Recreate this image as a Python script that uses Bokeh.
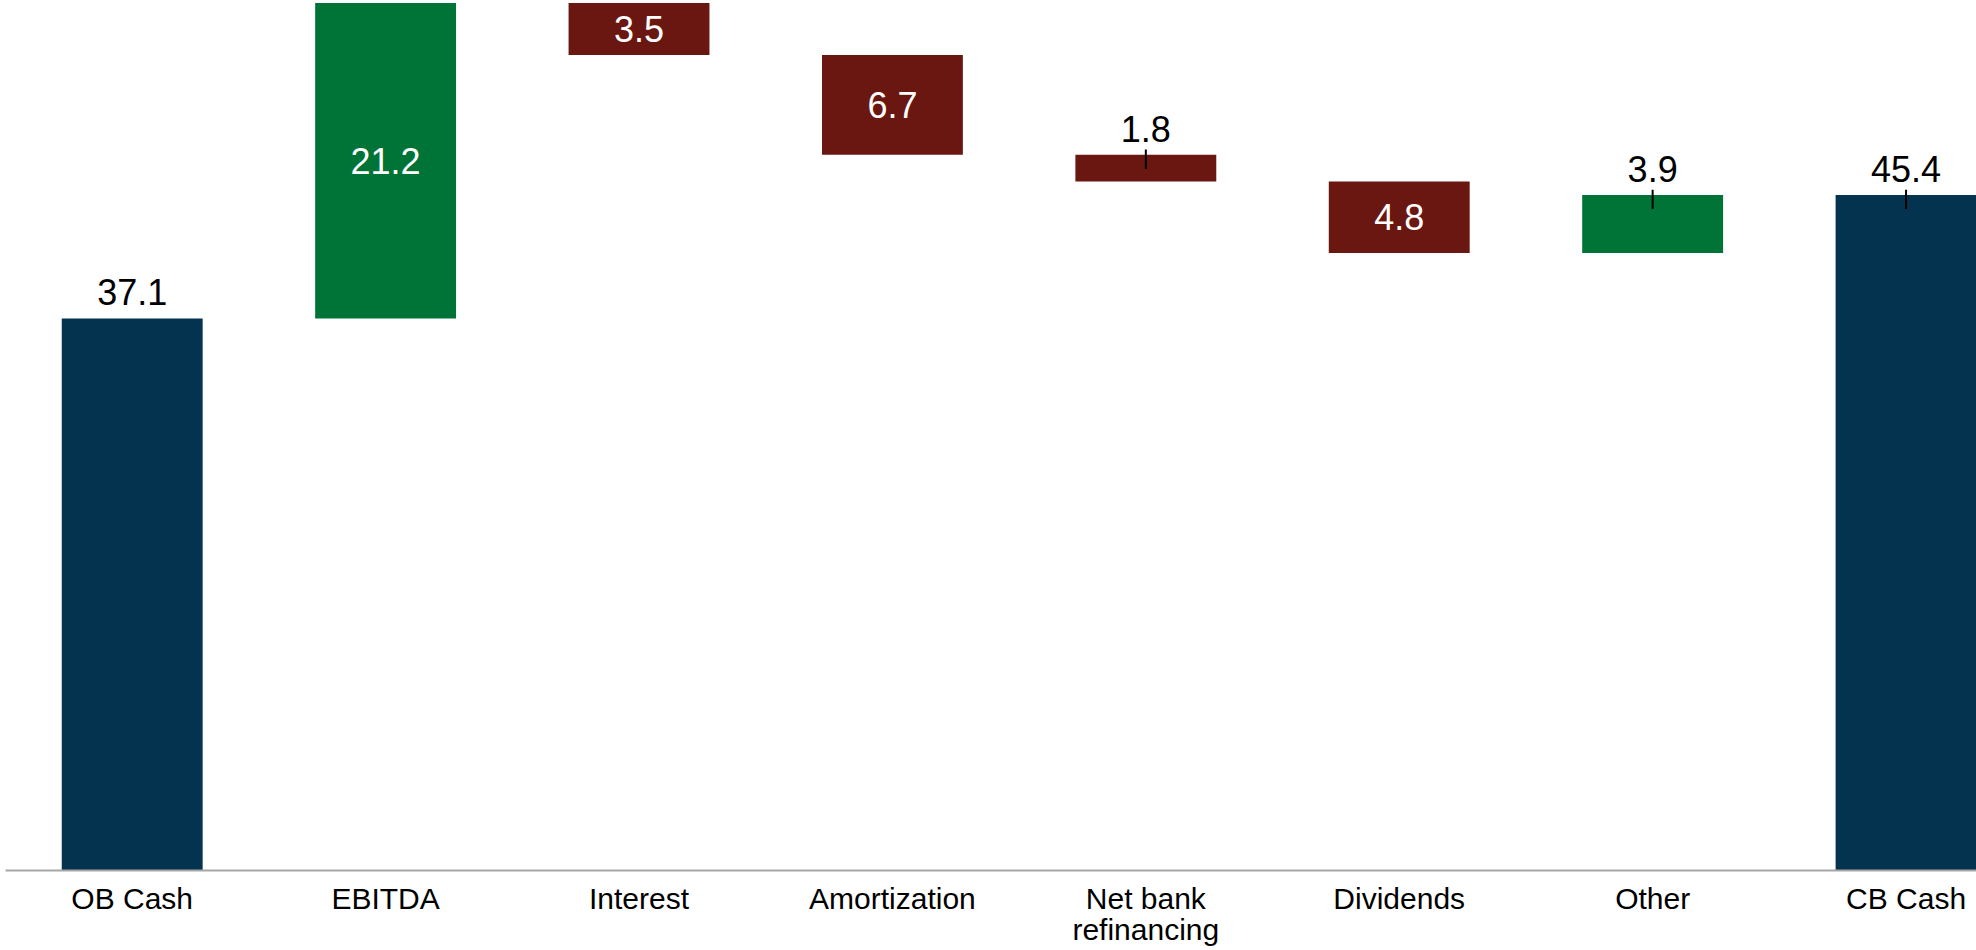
from bokeh.plotting import figure
from bokeh.models import Range1d, FixedTicker, ColumnDataSource
from bokeh.embed import file_html
from bokeh.resources import INLINE
from bokeh.core.properties import value

categories = ["OB Cash", "EBITDA", "Interest", "Amortization", "Net bank\nrefinancing",
              "Dividends", "Other", "CB Cash"]
amounts = [37.1, 21.2, -3.5, -6.7, -1.8, -4.8, 3.9, 45.4]
kinds = ["total", "delta", "delta", "delta", "delta", "delta", "delta", "total"]
label_inside = [False, True, True, True, False, True, False, False]
leader = [False, False, False, False, True, False, True, True]

NAVY = "#03334F"
GREEN = "#007336"
RED = "#6A1711"

xs = list(range(len(categories)))
tops, bottoms, colors = [], [], []
run = 0.0
for a, k in zip(amounts, kinds):
    if k == "total":
        run = a
        tops.append(a)
        bottoms.append(0.0)
        colors.append(NAVY)
    else:
        new = run + a
        tops.append(max(run, new))
        bottoms.append(min(run, new))
        colors.append(GREEN if a > 0 else RED)
        run = new

labels = [f"{abs(a):.1f}" for a in amounts]

src = ColumnDataSource(dict(x=xs, top=tops, bottom=bottoms, color=colors))

p = figure(width=1976, height=950, output_backend="svg", toolbar_location=None,
           x_range=Range1d(-0.5, 7.278), y_range=Range1d(0, 58.47),
           min_border_left=5, min_border_right=0, min_border_top=0, min_border_bottom=80)
p.outline_line_color = None
p.xgrid.visible = False
p.ygrid.visible = False
p.yaxis.visible = False
p.background_fill_color = "white"
p.border_fill_color = "white"

p.vbar(x="x", top="top", bottom="bottom", width=0.556, color="color", source=src, line_color=None)

# inside labels
in_src = ColumnDataSource(dict(
    x=[x for x, f in zip(xs, label_inside) if f],
    y=[(t + b) / 2 for t, b, f in zip(tops, bottoms, label_inside) if f],
    t=[l for l, f in zip(labels, label_inside) if f]))
p.text(x="x", y="y", text="t", source=in_src, text_color="white",
       text_font=value("Liberation Sans"), text_font_size="36px",
       text_align="center", text_baseline="middle")

# outside labels
out_src = ColumnDataSource(dict(
    x=[x for x, f in zip(xs, label_inside) if not f],
    y=[t for t, f in zip(tops, label_inside) if not f],
    t=[l for l, f in zip(labels, label_inside) if not f]))
p.text(x="x", y="y", text="t", source=out_src, text_color="black",
       text_font=value("Liberation Sans"), text_font_size="36px",
       text_align="center", text_baseline="alphabetic", y_offset=-26)

# leader ticks
ld_src = ColumnDataSource(dict(
    x=[x for x, f in zip(xs, leader) if f],
    y0=[t + 0.35 for t, f in zip(tops, leader) if f],
    y1=[t - 0.95 for t, f in zip(tops, leader) if f]))
p.segment(x0="x", y0="y0", x1="x", y1="y1", source=ld_src, line_color="black", line_width=2)

ax = p.xaxis[0]
ax.ticker = FixedTicker(ticks=xs)
ax.major_label_overrides = {i: c for i, c in zip(xs, categories)}
ax.major_tick_line_color = None
ax.minor_tick_line_color = None
ax.axis_line_color = "#A6A6A6"
ax.axis_line_width = 2
ax.major_label_text_font = "Liberation Sans"
ax.major_label_text_font_size = "30px"
ax.major_label_text_line_height = 0.95
ax.major_label_text_color = "black"
ax.major_label_standoff = 11
ax.major_tick_out = 0
ax.major_tick_in = 0

open("out.html", "w").write(file_html(p, INLINE))
